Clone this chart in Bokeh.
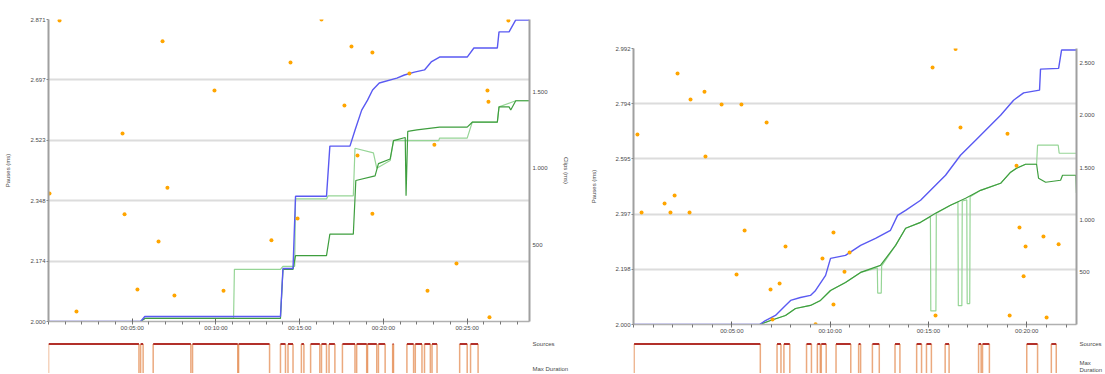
from bokeh.plotting import figure
from bokeh.models import LinearAxis, Range1d, FixedTicker, PrintfTickFormatter
from bokeh.layouts import row, column
from bokeh.embed import file_html
from bokeh.resources import INLINE

# ---------------- data: left panel ----------------
L_xmax = 28.72
L_xticks = [5, 10, 15, 20, 25]
L_xlabels = ["00:05:00", "00:10:00", "00:15:00", "00:20:00", "00:25:00"]
L_minor = list(range(0, 29))
L_lticks = [2.000, 2.174, 2.348, 2.523, 2.697, 2.871]
L_rticks = [500, 1000, 1500]
L_rlabels = ["500", "1.000", "1.500"]
L_rmax = 1970

L_blue_t = [0, 5.5, 5.75, 13.85, 14.0, 14.6, 14.75, 16.6, 16.8, 18.0, 18.3, 18.7, 19.05, 19.35, 19.75,
            20.8, 21.25, 21.85, 22.45, 22.85, 23.35, 25.0, 25.4, 26.8, 26.9, 27.5, 27.9, 28.72]
L_blue_v = [0, 0, 33, 33, 346, 346, 817, 817, 1144, 1144, 1248, 1379, 1444, 1510, 1556,
            1588, 1608, 1627, 1641, 1693, 1725, 1725, 1784, 1784, 1889, 1889, 1967, 1967]
L_dg_t = [0, 5.5, 5.75, 13.85, 14.0, 14.6, 14.75, 16.6, 16.8, 18.2, 18.35, 19.5, 19.7, 20.4, 20.6,
          21.3, 21.35, 21.45, 22.0, 23.35, 25.0, 25.3, 26.8, 26.9, 27.5, 27.6, 27.9, 28.72]
L_dg_v = [0, 0, 20, 20, 340, 340, 430, 430, 570, 570, 920, 950, 1030, 1060, 1180,
          1200, 820, 1240, 1250, 1268, 1268, 1300, 1300, 1400, 1400, 1380, 1440, 1440]
L_lg_t = [0, 5.5, 5.75, 11.05, 11.1, 13.85, 14.0, 14.7, 14.75, 16.6, 16.7, 18.2, 18.3, 19.4, 19.6,
          20.4, 20.6, 23.3, 23.35, 25.0, 25.3, 26.8, 26.9, 27.9, 28.72]
L_lg_v = [0, 0, 20, 20, 340, 340, 360, 360, 800, 800, 820, 820, 1130, 1100, 1000,
          1050, 1180, 1180, 1196, 1196, 1300, 1300, 1400, 1440, 1440]
L_dot_t = [0.66, 6.81, 9.91, 4.42, 0.06, 7.10, 4.54, 6.57, 5.31, 7.52, 1.67, 10.45, 13.31, 14.45, 16.30,
           18.09, 19.34, 17.67, 18.45, 19.34, 14.87, 21.55, 23.04, 26.21, 26.27, 24.36, 22.63, 26.33, 27.46]
L_dot_v = [2.868, 2.808, 2.666, 2.542, 2.369, 2.386, 2.309, 2.231, 2.092, 2.075, 2.029, 2.089, 2.234, 2.747, 2.871,
           2.793, 2.776, 2.623, 2.479, 2.311, 2.297, 2.715, 2.510, 2.666, 2.634, 2.167, 2.089, 2.012, 2.868]
L_src_start = [0.0, 5.5, 6.25, 8.6, 11.35, 13.85, 14.3, 15.1, 15.65, 16.3, 16.75, 17.55, 18.4, 19.05,
               19.7, 20.55, 21.4, 21.9, 22.45, 22.9, 24.55, 25.2]
L_src_end = [5.4, 5.65, 8.5, 11.3, 13.2, 14.15, 14.6, 15.25, 16.2, 16.6, 17.1, 18.3, 19.0, 19.6,
             20.1, 20.6, 21.8, 22.3, 22.8, 23.2, 25.0, 25.65]
L_row_labels = ["Sources", "Max Duration"]

# ---------------- data: right panel ----------------
R_xmax = 22.53
R_xticks = [5, 10, 15, 20]
R_xlabels = ["00:05:00", "00:10:00", "00:15:00", "00:20:00"]
R_minor = list(range(0, 23))
R_lticks = [2.000, 2.198, 2.397, 2.595, 2.794, 2.992]
R_rticks = [500, 1000, 1500, 2000, 2500]
R_rlabels = ["500", "1.000", "1.500", "2.000", "2.500"]
R_rmax = 2637

R_blue_t = [0, 6.41, 6.71, 7.22, 7.73, 7.99, 8.49, 9.0, 9.26, 9.77, 10.02, 10.78, 11.55, 12.31, 13.07,
            13.43, 13.84, 14.6, 15.36, 15.87, 16.63, 17.4, 18.16, 18.67, 19.33, 19.84, 20.65, 20.7,
            21.62, 21.77, 22.53]
R_blue_v = [0, 0, 38, 86, 182, 230, 258, 278, 325, 469, 632, 660, 756, 823, 900,
            1043, 1091, 1187, 1330, 1426, 1617, 1761, 1904, 2000, 2143, 2213, 2239, 2440,
            2447, 2622, 2622]
R_dg_t = [0, 6.41, 6.97, 7.73, 8.24, 9.0, 9.51, 10.02, 10.78, 11.55, 12.56, 13.33, 13.84, 14.6, 15.36,
          16.12, 16.89, 17.65, 18.67, 19.18, 19.48, 19.94, 20.5, 20.6, 20.96, 21.72, 21.82, 22.5, 22.53]
R_dg_v = [0, 0, 38, 86, 153, 182, 230, 325, 402, 498, 565, 756, 919, 976, 1062,
          1139, 1206, 1282, 1349, 1455, 1493, 1531, 1531, 1397, 1359, 1378, 1426, 1426, 1254]
R_lg_t = [0, 6.41, 6.97, 7.73, 8.24, 9.0, 9.51, 10.02, 10.78, 11.55, 12.4, 12.42, 12.6, 12.62, 13.33,
          13.84, 14.6, 15.1, 15.12, 15.38, 15.4, 16.12, 16.5, 16.52, 16.7, 16.72, 16.95, 16.97, 17.1,
          17.12, 17.65, 18.67, 19.18, 19.48, 19.94, 20.5, 20.55, 21.6, 21.65, 22.53]
R_lg_v = [0, 0, 38, 86, 153, 182, 230, 325, 402, 498, 540, 300, 300, 560, 756,
          919, 976, 1030, 130, 130, 1062, 1139, 1170, 180, 180, 1180, 1190, 200, 200,
          1220, 1282, 1349, 1455, 1493, 1531, 1531, 1713, 1713, 1636, 1636]
R_dot_t = [0.20, 0.41, 1.58, 1.88, 2.09, 2.24, 2.90, 2.85, 3.61, 3.66, 4.48, 5.49, 5.65, 5.24, 6.77,
           6.97, 7.43, 7.73, 10.17, 9.26, 15.36, 19.02, 19.48, 19.63, 20.85, 19.94, 21.62, 19.84, 19.13,
           21.01, 15.21, 16.38, 16.63, 10.17, 9.61, 10.73, 10.99, 7.07]
R_dot_v = [2.683, 2.403, 2.435, 2.403, 2.464, 2.902, 2.809, 2.403, 2.837, 2.604, 2.791, 2.791, 2.338, 2.180, 2.726,
           2.126, 2.147, 2.280, 2.072, 2.001, 2.032, 2.686, 2.571, 2.349, 2.316, 2.280, 2.288, 2.173, 2.032,
           2.025, 2.924, 2.990, 2.708, 2.331, 2.237, 2.190, 2.259, 2.018]
R_src_start = [0.03, 7.3, 7.65, 8.8, 9.35, 9.55, 10.3, 11.45, 12.15, 13.3, 14.4, 14.9, 15.85, 17.55, 17.75,
               20.0, 21.25]
R_src_end = [6.45, 7.5, 7.95, 9.05, 9.5, 9.8, 11.05, 11.55, 12.5, 13.55, 14.65, 15.15, 16.05, 17.68, 18.1,
             20.55, 21.5]
R_row_labels = ["Sources", "Max\nDuration"]   # wrapped: the right panel has little room at the page edge

FONT = "Liberation Sans"
TXT = "#4a4a4a"


def style_axis(ax, fs="6px"):
    ax.major_label_text_font = FONT
    ax.major_label_text_font_size = fs
    ax.major_label_text_color = TXT
    ax.axis_label_text_font = FONT
    ax.axis_label_text_font_size = fs
    ax.axis_label_text_font_style = "normal"
    ax.axis_label_text_color = TXT


def main_fig(width, height, bl, br, bt, bb, xmax, xticks, xlabels, minor, lticks, rmax, rticks, rlabels,
             blue_t, blue_v, dg_t, dg_v, lg_t, lg_v, dot_t, dot_v, right_title, lstand):
    p = figure(width=width, height=height, output_backend="svg", toolbar_location=None,
               x_range=Range1d(0, xmax), y_range=Range1d(lticks[0], lticks[-1]),
               min_border_left=bl, min_border_right=br, min_border_top=bt, min_border_bottom=bb,
               outline_line_color=None)
    p.extra_y_ranges = {"r": Range1d(0, rmax)}
    p.xgrid.visible = False
    p.ygrid.grid_line_color = "#dcdcdc"
    p.ygrid.grid_line_width = 2

    xa = p.xaxis[0]
    xa.ticker = FixedTicker(ticks=xticks, minor_ticks=minor)
    xa.major_label_overrides = {float(t): l for t, l in zip(xticks, xlabels)}
    xa.axis_line_color = "#b0b0b0"
    xa.axis_line_width = 1.5
    xa.major_tick_in = 3
    xa.major_tick_out = 2
    xa.minor_tick_in = 0
    xa.minor_tick_out = 3
    xa.major_tick_line_color = "#666666"
    xa.minor_tick_line_color = "#777777"
    xa.major_label_standoff = 0
    style_axis(xa)

    ya = p.yaxis[0]
    ya.ticker = FixedTicker(ticks=lticks)
    ya.formatter = PrintfTickFormatter(format="%.3f")
    ya.axis_label = "Pauses (ms)"
    ya.axis_line_color = "#a0a0a0"
    ya.axis_line_width = 2
    ya.major_tick_in = 0
    ya.major_tick_out = 2
    ya.major_tick_line_color = "#888888"
    ya.major_label_standoff = 1
    ya.axis_label_standoff = lstand
    style_axis(ya)

    ra = LinearAxis(y_range_name="r", ticker=FixedTicker(ticks=rticks))
    ra.major_label_overrides = {float(t): l for t, l in zip(rticks, rlabels)}
    if right_title:
        ra.axis_label = right_title
    ra.axis_line_color = "#a0a0a0"
    ra.axis_line_width = 2
    ra.major_tick_in = 0
    ra.major_tick_out = 0
    ra.major_label_standoff = 3
    ra.axis_label_standoff = 12
    style_axis(ra)
    p.add_layout(ra, "right")

    p.line(lg_t, lg_v, y_range_name="r", line_color="#96d596", line_width=1.2)
    p.line(dg_t, dg_v, y_range_name="r", line_color="#3e9e3e", line_width=1.2)
    p.line(blue_t, blue_v, y_range_name="r", line_color="#5a5af2", line_width=1.4)
    p.scatter(dot_t, dot_v, size=4, fill_color="#ffa500", line_color=None)
    return p


def strip_fig(width, height, bl, br, xmax, starts, ends, row_labels, row_pos):
    s = figure(width=width, height=height, output_backend="svg", toolbar_location=None,
               x_range=Range1d(0, xmax), y_range=Range1d(0, 1),
               x_axis_location=None, y_axis_location="right",
               min_border_left=bl, min_border_right=br, min_border_top=0, min_border_bottom=0,
               outline_line_color=None)
    s.grid.visible = False
    hi = row_pos[0]
    lo = -1.0
    s.segment(x0=starts, y0=hi, x1=starts, y1=lo, line_color="#e07b39", line_alpha=0.65, line_width=1.5)
    s.segment(x0=ends, y0=hi, x1=ends, y1=lo, line_color="#e07b39", line_alpha=0.65, line_width=1.5)
    s.segment(x0=starts, y0=hi, x1=ends, y1=hi, line_color="#b2302a", line_width=2)
    ax = s.yaxis[0]
    ax.ticker = FixedTicker(ticks=row_pos)
    ax.major_label_overrides = {float(v): l for v, l in zip(row_pos, row_labels)}
    ax.axis_line_color = None
    ax.major_tick_line_color = None
    ax.minor_tick_line_color = None
    ax.major_tick_in = 0
    ax.major_tick_out = 0
    ax.major_label_standoff = 3
    style_axis(ax)
    return s


# left column: frame x 48..529, y 19..321 ; right column: frame x 633..1076, y 48..324
pL = main_fig(580, 337, 48, 51, 19, 16, L_xmax, L_xticks, L_xlabels, L_minor, L_lticks, L_rmax,
              L_rticks, L_rlabels, L_blue_t, L_blue_v, L_dg_t, L_dg_v, L_lg_t, L_lg_v, L_dot_t, L_dot_v,
              "Clips (ms)", 16)
sL = strip_fig(580, 36, 48, 51, L_xmax, L_src_start, L_src_end, L_row_labels, [0.82, 0.12])
pR = main_fig(525, 337, 53, 29, 48, 13, R_xmax, R_xticks, R_xlabels, R_minor, R_lticks, R_rmax,
              R_rticks, R_rlabels, R_blue_t, R_blue_v, R_dg_t, R_dg_v, R_lg_t, R_lg_v, R_dot_t, R_dot_v,
              None, 15)
sR = strip_fig(525, 36, 53, 29, R_xmax, R_src_start, R_src_end, R_row_labels, [0.82, 0.2])

layout = row(column(pL, sL), column(pR, sR))
open("out.html", "w").write(file_html(layout, INLINE))
